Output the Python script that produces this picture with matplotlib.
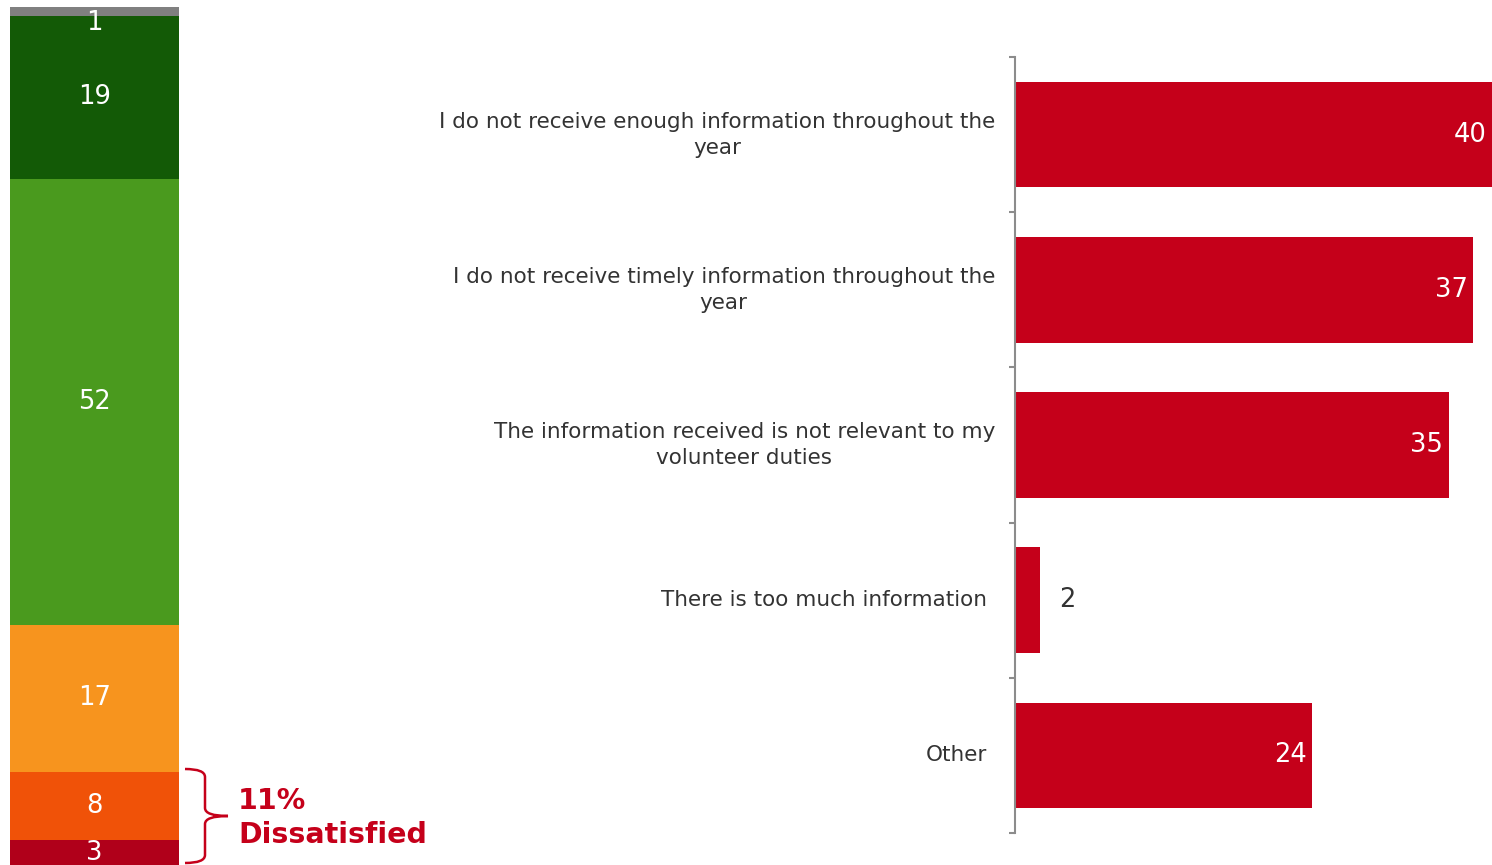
import numpy as np
import matplotlib.pyplot as plt
from matplotlib.path import Path
from matplotlib.patches import PathPatch

# stacked satisfaction bar (top to bottom)
sat_values = [1, 19, 52, 17, 8, 3]
sat_colors = ['#808080', '#135A06', '#4A9A1E', '#F7941E', '#F05208', '#B0001A']

# reasons for dissatisfaction
reasons = ['I do not receive enough information throughout the\nyear',
           'I do not receive timely information throughout the\nyear',
           'The information received is not relevant to my\nvolunteer duties',
           'There is too much information',
           'Other']
reason_values = [40, 37, 35, 2, 24]
label_pad = [20, 20, 20, 28, 28]

dissat_text = '11%\nDissatisfied'

RED = '#C5001A'
TXT = '#333333'

fig = plt.figure(figsize=(14.92, 8.65), dpi=100)

# ---- left stacked bar
axl = fig.add_axes([10 / 1492, -1 / 865, 169 / 1492, 859 / 865])
bottom = 100
for v, c in zip(sat_values, sat_colors):
    bottom -= v
    axl.bar(0, v, bottom=bottom, width=1, color=c)
    if v < 2:
        axl.annotate(str(v), (0, bottom + v), xytext=(0, -2), textcoords='offset points',
                     ha='center', va='top', color='white', fontsize=18.5)
    else:
        axl.text(0, bottom + v / 2, str(v), ha='center', va='center', color='white', fontsize=18.5)
axl.set_xlim(-0.5, 0.5)
axl.set_ylim(0, 100)
axl.axis('off')

# brace around dissatisfied part
x0, x1, xm = 185, 205, 228
ytop, ybot = 769, 863
ymid = (ytop + ybot) / 2
pts = [(x0, ytop), (x1, ytop), (x1, ytop + 8),
       (x1, ymid - 8), (x1, ymid), (xm, ymid),
       (x1, ymid), (x1, ymid + 8),
       (x1, ybot - 8), (x1, ybot), (x0, ybot)]
codes = [Path.MOVETO, Path.CURVE3, Path.CURVE3,
         Path.LINETO, Path.CURVE3, Path.CURVE3,
         Path.CURVE3, Path.CURVE3,
         Path.LINETO, Path.CURVE3, Path.CURVE3]
fpts = [(x / 1492, 1 - y / 865) for x, y in pts]
fig.patches.append(PathPatch(Path(fpts, codes), transform=fig.transFigure,
                             fill=False, edgecolor=RED, lw=1.8))
fig.text(238 / 1492, 1 - 818 / 865, dissat_text, ha='left', va='center',
         color=RED, fontsize=20.5, fontweight='bold', linespacing=1.28)

# ---- right bar chart
axr = fig.add_axes([1015 / 1492, 32 / 865, 477 / 1492, 776 / 865])
ypos = np.arange(len(reasons))
axr.barh(ypos, reason_values, height=0.68, color=RED)
axr.set_xlim(0, 38.5)
axr.set_ylim(len(reasons) - 0.5, -0.5)
xmax = axr.get_xlim()[1]
for y, v in zip(ypos, reason_values):
    if v > 5:
        axr.annotate(str(v), (min(v, xmax), y), xytext=(-4, 0), textcoords='offset points',
                     ha='right', va='center', color='white', fontsize=18.5)
    else:
        axr.annotate(str(v), (v, y), xytext=(14, 0), textcoords='offset points',
                     ha='left', va='center', color=TXT, fontsize=18.5)
for y, lab, pad in zip(ypos, reasons, label_pad):
    axr.annotate(lab, (0, y), xytext=(-pad * 0.72, 0), textcoords='offset points',
                 ha='right', va='center', multialignment='center',
                 color=TXT, fontsize=15.5, linespacing=1.38)

for s in ['top', 'right', 'bottom']:
    axr.spines[s].set_visible(False)
axr.spines['left'].set_color('#8C8C8C')
axr.spines['left'].set_linewidth(1.5)
axr.set_yticks(np.arange(len(reasons) + 1) - 0.5)
axr.set_yticklabels([])
axr.tick_params(axis='y', direction='out', length=4, width=1.5, color='#8C8C8C')
axr.set_xticks([])

fig.savefig('out.png', dpi=100)
